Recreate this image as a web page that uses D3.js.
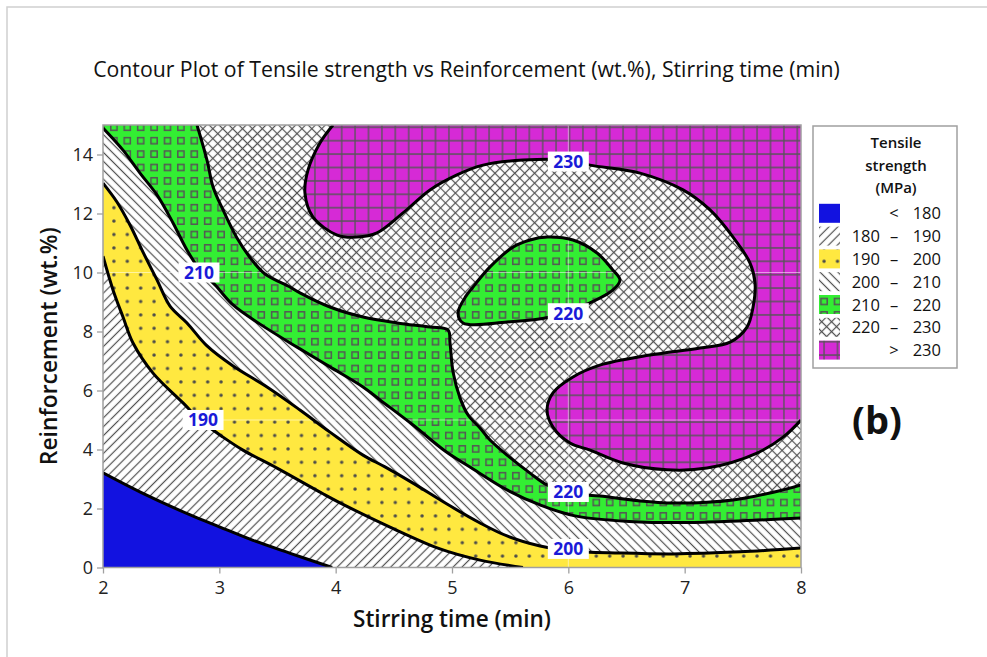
<!DOCTYPE html>
<html><head><meta charset="utf-8">
<script src="https://cdn.jsdelivr.net/npm/d3@7"></script>
<style>body{margin:0;background:#fff}svg{display:block}</style>
</head><body>
<svg id="c" width="987" height="657"></svg>
<script>
// ---------- data ----------
const xTicks = [2, 3, 4, 5, 6, 7, 8];
const yTicks = [0, 2, 4, 6, 8, 10, 12, 14];
const levels = [180, 190, 200, 210, 220, 230];
const legendLo  = ["", "180", "190", "200", "210", "220", ""];
const legendMid = ["<", "–", "–", "–", "–", "–", ">"];
const legendHi  = ["180", "190", "200", "210", "220", "230", "230"];

// contour lines [stirring time, reinforcement]
const c180 = [[2,3.21],[2.33,2.54],[2.75,1.78],[3.0,1.38],[3.29,0.92],[3.61,0.48],[3.97,0]];
const c190 = [[2,10.55],[2.086,9.41],[2.172,8.49],[2.258,7.61],[2.43,6.59],[2.688,5.58],[2.834,5.0],[3.032,4.42],[3.203,3.98],[3.496,3.37],[3.891,2.5],[4.063,2.14],[4.467,1.37],[4.897,0.63],[5.241,0.25],[5.61,0]];
const c200 = [[2,13.03],[2.12,12.39],[2.232,11.61],[2.344,10.69],[2.464,9.75],[2.576,8.86],[2.722,8.29],[2.894,7.51],[3.118,6.83],[3.41,6.12],[3.693,5.34],[3.951,4.59],[4.235,3.81],[4.424,3.41],[4.665,2.86],[4.957,2.15],[5.241,1.51],[5.473,1.07],[5.757,0.73],[6.014,0.56],[6.444,0.49],[6.9,0.46],[7.476,0.53],[8,0.66]];
const c210 = [[2,14.9],[2.172,14.15],[2.318,13.37],[2.464,12.63],[2.602,11.68],[2.722,10.76],[2.834,10.08],[2.963,9.58],[3.118,8.9],[3.35,8.25],[3.668,7.47],[3.951,6.8],[4.235,6.12],[4.381,5.68],[4.665,4.83],[4.94,3.95],[5.181,3.34],[5.473,2.63],[5.757,2.12],[6.057,1.75],[6.616,1.54],[7.192,1.54],[8,1.68]];
const c220 = [[2.808,15],[2.894,13.81],[2.946,12.9],[3.032,12.12],[3.152,11.17],[3.281,10.42],[3.393,9.95],[3.607,9.51],[3.693,9.31],[3.951,8.83],[4.235,8.49],[4.527,8.29],[4.811,8.15],[4.966,8.05],[4.983,7.61],[5.009,6.63],[5.069,5.75],[5.138,5.17],[5.241,4.73],[5.327,4.32],[5.473,3.81],[5.671,3.2],[5.817,2.8],[6.014,2.53],[6.272,2.42],[6.848,2.19],[7.416,2.29],[7.846,2.63],[8,2.8]];
const c220island = [[5.052,8.63],[5.12,9.2],[5.181,9.51],[5.327,10.19],[5.524,10.86],[5.671,11.1],[5.817,11.2],[6.04,11.1],[6.247,10.66],[6.384,10.08],[6.444,9.75],[6.384,9.41],[6.186,8.97],[5.843,8.49],[5.473,8.32],[5.095,8.29]];
const c230 = [[3.977,15],[3.865,14.39],[3.762,13.47],[3.736,12.69],[3.805,11.88],[4.012,11.27],[4.183,11.2],[4.355,11.34],[4.579,12.02],[4.811,12.8],[5.043,13.31],[5.267,13.64],[5.61,13.81],[5.997,13.81],[6.186,13.64],[6.616,13.37],[6.986,12.8],[7.218,12.12],[7.416,11.2],[7.562,10.32],[7.605,9.64],[7.588,8.83],[7.536,8.15],[7.39,7.64],[7.132,7.44],[6.702,7.2],[6.272,6.86],[6.04,6.46],[5.868,5.92],[5.817,5.34],[5.868,4.76],[6.014,4.22],[6.186,3.98],[6.47,3.54],[6.848,3.31],[7.192,3.37],[7.622,3.88],[7.846,4.42],[8,5.0]];

// contour labels
const labelVals = [190, 210, 230, 220, 220, 200];
const labelX    = [2.86, 2.825, 6, 6, 6, 6];
const labelY    = [5, 10, 13.76, 8.62, 2.56, 0.63];
const guideX = [6];
const guideY = [5, 10];

// ---------- drawing ----------
const FONT = "'Open Sans', 'Noto Sans', sans-serif";
const svg = d3.select("#c");
const W = 987, H = 657;
const L = 103, R = 801, T = 125, B = 567.5;
const x = d3.scaleLinear().domain([2, 8]).range([L, R]);
const y = d3.scaleLinear().domain([0, 15]).range([B, T]);

// outer frame
svg.append("rect").attr("x", 7).attr("y", 7).attr("width", W + 20).attr("height", H + 20)
  .attr("fill", "none").attr("stroke", "#d0d0d0").attr("stroke-width", 1.5);

const colors = {blue: "#1212e0", yellow: "#ffe840", green: "#33ee33", magenta: "#d62ad6", ink: "#505050"};
const defs = svg.append("defs");
function hatch(id, angle, size, cross) {
  const p = defs.append("pattern").attr("id", id).attr("patternUnits", "userSpaceOnUse")
    .attr("width", size).attr("height", size).attr("patternTransform", `rotate(${angle})`);
  p.append("rect").attr("width", size).attr("height", size).attr("fill", "#fff");
  p.append("line").attr("x1", size / 2).attr("x2", size / 2).attr("y1", -1).attr("y2", size + 1)
    .attr("stroke", colors.ink).attr("stroke-width", 1.2);
  if (cross) p.append("line").attr("y1", size / 2).attr("y2", size / 2).attr("x1", -1).attr("x2", size + 1)
    .attr("stroke", colors.ink).attr("stroke-width", 1.2);
}
hatch("p180", 45, 6.3, false);
hatch("p200", -45, 6.3, false);
hatch("p220", 45, 7, true);
const S = 13.4;
{
  const p = defs.append("pattern").attr("id", "p190").attr("patternUnits", "userSpaceOnUse").attr("width", S).attr("height", S);
  p.append("rect").attr("width", S).attr("height", S).attr("fill", colors.yellow);
  p.append("circle").attr("cx", S / 2).attr("cy", S / 2).attr("r", 1.75).attr("fill", "#4a4a4a");
}
{
  const p = defs.append("pattern").attr("id", "p210").attr("patternUnits", "userSpaceOnUse").attr("width", S).attr("height", S);
  p.append("rect").attr("width", S).attr("height", S).attr("fill", colors.green);
  p.append("rect").attr("x", 3.6).attr("y", 3.6).attr("width", 6.2).attr("height", 6.2)
    .attr("fill", "none").attr("stroke", "#555").attr("stroke-width", 1.5);
}
{
  const p = defs.append("pattern").attr("id", "p230").attr("patternUnits", "userSpaceOnUse").attr("width", S).attr("height", S);
  p.append("rect").attr("width", S).attr("height", S).attr("fill", colors.magenta);
  p.append("path").attr("d", `M${S/2},0V${S}M0,${S/2}H${S}`).attr("stroke", "#555").attr("stroke-width", 1.3);
}
const fills = [colors.blue, "url(#p180)", "url(#p190)", "url(#p200)", "url(#p210)", "url(#p220)", "url(#p230)"];

defs.append("clipPath").attr("id", "plotclip").append("rect")
  .attr("x", L).attr("y", T).attr("width", R - L).attr("height", B - T);

const g = svg.append("g").attr("clip-path", "url(#plotclip)");
const line = d3.line().x(d => x(d[0])).y(d => y(d[1])).curve(d3.curveCatmullRom.alpha(0.5));
const closed = d3.line().x(d => x(d[0])).y(d => y(d[1])).curve(d3.curveCatmullRomClosed.alpha(0.5));
const corner = c => `L${x(c[0])},${y(c[1])}`;
function region(pts, corners) { return line(pts) + corners.map(corner).join("") + "Z"; }

// lowest band
g.append("rect").attr("x", L).attr("y", T).attr("width", R - L).attr("height", B - T).attr("fill", fills[0]);
const regions = [
  region(c180, [[8, 0], [8, 15], [2, 15]]),
  region(c190, [[8, 0], [8, 15], [2, 15]]),
  region(c200, [[8, 15], [2, 15]]),
  region(c210, [[8, 15], [2, 15]]),
  region(c220, [[8, 15]]) + closed(c220island),
  region(c230, [[8, 15]])
];
regions.forEach((d, i) => g.append("path").attr("d", d).attr("fill", fills[i + 1]).attr("fill-rule", "evenodd"));

// faint label guide lines
guideY.forEach(v => g.append("line").attr("x1", L).attr("x2", R).attr("y1", y(v)).attr("y2", y(v))
  .attr("stroke", "#fff").attr("stroke-opacity", 0.5).attr("stroke-width", 1));
guideX.forEach(v => g.append("line").attr("y1", T).attr("y2", B).attr("x1", x(v)).attr("x2", x(v))
  .attr("stroke", "#fff").attr("stroke-opacity", 0.5).attr("stroke-width", 1));

// contour lines
[c180, c190, c200, c210, c220, c230].forEach(c => g.append("path").attr("d", line(c))
  .attr("fill", "none").attr("stroke", "#000").attr("stroke-width", 3).attr("stroke-linejoin", "round"));
g.append("path").attr("d", closed(c220island)).attr("fill", "none").attr("stroke", "#000").attr("stroke-width", 3);

// contour labels
labelVals.forEach((v, i) => {
  const cx = x(labelX[i]), cy = y(labelY[i]);
  svg.append("rect").attr("x", cx - 20.5).attr("y", cy - 10).attr("width", 41).attr("height", 20).attr("fill", "#fff");
  svg.append("text").attr("x", cx).attr("y", cy + 6.3).attr("text-anchor", "middle")
    .attr("font-family", FONT).attr("font-weight", 700).attr("font-size", 17.5).attr("fill", "#1a1ad8").text(v);
});

// plot frame
svg.append("rect").attr("x", L).attr("y", T).attr("width", R - L).attr("height", B - T)
  .attr("fill", "none").attr("stroke", "#a0a0a0").attr("stroke-width", 1.5);

// axes
const xAxis = d3.axisBottom(x).tickValues(xTicks).tickSize(6).tickPadding(5).tickFormat(d3.format("d"));
const yAxis = d3.axisLeft(y).tickValues(yTicks).tickSize(6).tickPadding(4).tickFormat(d3.format("d"));
const gx = svg.append("g").attr("transform", `translate(0,${B})`).call(xAxis);
const gy = svg.append("g").attr("transform", `translate(${L},0)`).call(yAxis);
[gx, gy].forEach(a => {
  a.select(".domain").remove();
  a.selectAll(".tick line").attr("stroke", "#a0a0a0").attr("stroke-width", 1.3);
  a.selectAll(".tick text").attr("font-family", FONT).attr("font-size", 18).attr("fill", "#222");
});
gx.selectAll(".tick text").attr("dy", "0.85em");
gy.selectAll(".tick text").attr("dy", "0.35em");

function fit(sel, target) {
  const w = sel.node().getComputedTextLength();
  sel.attr("font-size", parseFloat(sel.attr("font-size")) * target / w);
}
// titles
const title = svg.append("text").attr("x", 466.5).attr("y", 77).attr("text-anchor", "middle")
  .attr("font-family", FONT).attr("font-weight", 500).attr("font-size", 17).attr("fill", "#111")
  .text("Contour Plot of Tensile strength vs Reinforcement (wt.%), Stirring time (min)");
fit(title, 747);
const xt = svg.append("text").attr("x", (L + R) / 2).attr("y", 627).attr("text-anchor", "middle")
  .attr("font-family", FONT).attr("font-weight", 600).attr("font-size", 19).attr("fill", "#111")
  .text("Stirring time (min)");
fit(xt, 198);
const yt = svg.append("text").attr("transform", `translate(57,${(T + B) / 2}) rotate(-90)`).attr("text-anchor", "middle")
  .attr("font-family", FONT).attr("font-weight", 600).attr("font-size", 19).attr("fill", "#111")
  .text("Reinforcement (wt.%)");
fit(yt, 238);

svg.append("text").attr("x", 877).attr("y", 434).attr("text-anchor", "middle")
  .attr("font-family", FONT).attr("font-weight", 700).attr("font-size", 38).attr("fill", "#111").text("(b)");

// legend
const lg = svg.append("g");
lg.append("rect").attr("x", 813).attr("y", 126).attr("width", 144).attr("height", 242)
  .attr("fill", "#fff").attr("stroke", "#a0a0a0").attr("stroke-width", 1.5);
["Tensile", "strength", "(MPa)"].forEach((t, i) => lg.append("text").attr("x", 896).attr("y", 148 + i * 22.5)
  .attr("text-anchor", "middle").attr("font-family", FONT).attr("font-weight", 600).attr("font-size", 15)
  .attr("fill", "#111").text(t));
legendHi.forEach((hi, i) => {
  const cy = 213.3 + i * 22.8;
  lg.append("rect").attr("x", 819).attr("y", cy - 9.5).attr("width", 21).attr("height", 19).attr("fill", fills[i]);
  const tx = (xx, anchor, s) => lg.append("text").attr("x", xx).attr("y", cy + 6).attr("text-anchor", anchor)
    .attr("font-family", FONT).attr("font-size", 16.5).attr("fill", "#111").text(s);
  if (legendLo[i]) tx(880, "end", legendLo[i]);
  tx(894, "middle", legendMid[i]);
  tx(941, "end", hi);
});
</script>
</body></html>
